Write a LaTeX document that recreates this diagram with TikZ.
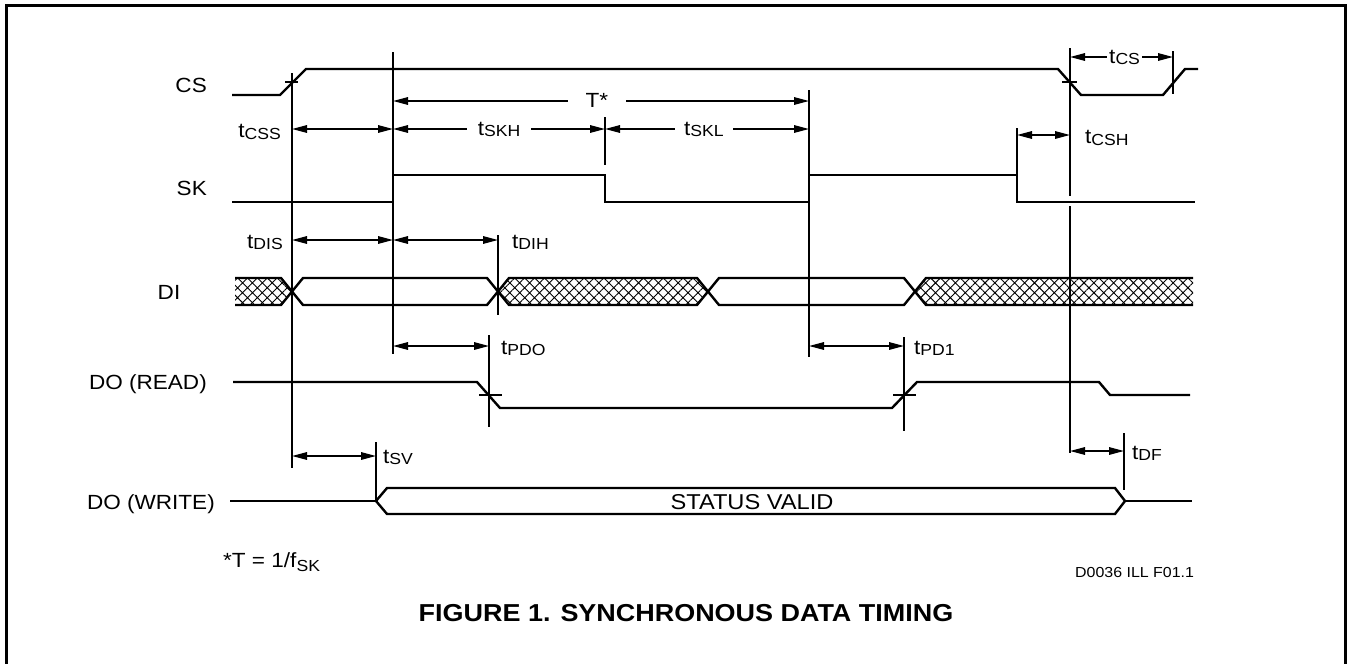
\documentclass[tikz,border=0pt]{standalone}
\usepackage{fontspec}
\setmainfont{Liberation Sans}[FakeStretch=1.1]
\usetikzlibrary{arrows.meta,patterns.meta}
\newcommand\tsb[1]{t\raisebox{-1.5pt}{\fontsize{16}{16}\selectfont #1}}
\begin{document}
\begin{tikzpicture}[x=1pt,y=-1pt,
  sig/.style={line width=2.4pt,line join=miter},
  dim/.style={line width=1.6pt,{Triangle[length=15pt,width=7.5pt]}-{Triangle[length=15pt,width=7.5pt]}},
  lbl/.style={font=\fontsize{20.5}{24}\selectfont, inner sep=0pt},
  glbl/.style={font=\fontsize{20.5}{24}\selectfont, fill=white, inner ysep=1pt, text height=14pt, text depth=2pt},
  hatch/.style={pattern={Hatch[angle=45,distance=7pt,line width=0.9pt]}},
  tick/.style={line width=1.5pt}
]
\useasboundingbox (0,0) rectangle (1350,664);
\clip (0,0) rectangle (1350,664);
% frame
\draw[line width=3pt] (6.5,700) -- (6.5,5.5) -- (1345,5.5) -- (1345,700);

% signal names
\node[lbl,anchor=base east] (nCS) at (207,92) {CS};
\node[lbl,anchor=base east] (nSK) at (207,195) {SK};
\node[lbl,anchor=base] (nDI) at (169,299) {DI};
\node[lbl,anchor=base east] (nDOR) at (207,389) {DO (READ)};
\node[lbl,anchor=base east] (nDOW) at (215,509) {DO (WRITE)};

% CS
\draw[sig] (232,95) -- (280,95) -- (306,69) -- (1058,69) -- (1081,95) -- (1163,95) -- (1185,69) -- (1198,69);
% SK
\draw[sig] (232,202) -- (393,202) -- (393,175) -- (605,175) -- (605,202) -- (809,202) -- (809,175) -- (1017,175) -- (1017,202) -- (1195,202);
% DI
\fill[hatch] (235,278) -- (281,278) -- (292,291.5) -- (281,305) -- (235,305) -- cycle;
\fill[hatch] (498,291.5) -- (509,278) -- (697,278) -- (708,291.5) -- (697,305) -- (509,305) -- cycle;
\fill[hatch] (915,291.5) -- (926,278) -- (1193,278) -- (1193,305) -- (926,305) -- cycle;
\draw[sig] (235,278) -- (281,278) -- (303,305) -- (487,305) -- (509,278) -- (697,278) -- (719,305) -- (904,305) -- (926,278) -- (1193,278);
\draw[sig] (235,305) -- (281,305) -- (303,278) -- (487,278) -- (509,305) -- (697,305) -- (719,278) -- (904,278) -- (926,305) -- (1193,305);
% DO (READ)
\draw[sig] (233,382) -- (477,382) -- (500,408) -- (892,408) -- (917,382) -- (1099,382) -- (1110,395) -- (1190,395);
% DO (WRITE)
\draw[sig] (230,501) -- (376,501);
\draw[sig] (376,501) -- (387,488) -- (1115,488) -- (1125,501) -- (1115,514) -- (387,514) -- cycle;
\draw[sig] (1125,501) -- (1192,501);
\node[font=\fontsize{21.5}{24}\selectfont, inner sep=0pt, anchor=base] (sv) at (752,509) {STATUS VALID};

% timing verticals
\draw[tick] (292,73) -- (292,468);
\draw[tick] (393,52) -- (393,354);
\draw[tick] (605,117) -- (605,165);
\draw[tick] (809,90) -- (809,357);
\draw[tick] (1017,128) -- (1017,175);
\draw[tick] (1070,48) -- (1070,196);
\draw[tick] (1070,206) -- (1070,453);
\draw[tick] (1173,51) -- (1173,94);
\draw[tick] (498,235) -- (498,315);
\draw[tick] (489,335) -- (489,427);
\draw[tick] (904,337) -- (904,431);
\draw[tick] (376,442) -- (376,501);
\draw[tick] (1124,433) -- (1124,490);
% crossing ticks
\draw[tick] (285,82) -- (298,82);
\draw[tick] (1062,82) -- (1077,82);
\draw[tick] (479,395) -- (502,395);
\draw[tick] (893,395) -- (916,395);

% dimension arrows
\draw[dim] (393,101) -- node[glbl,inner xsep=18pt,pos=0.49] (tT) {T*} (809,101);
\draw[dim] (292,129) -- (393,129);
\node[lbl,anchor=base east] (tcss) at (281,137.5) {\tsb{CSS}};
\draw[dim] (393,129) -- node[glbl,inner xsep=11pt] (tskh) {\tsb{SKH}} (605,129);
\draw[dim] (605,129) -- node[glbl,inner xsep=9pt,pos=0.485] (tskl) {\tsb{SKL}} (809,129);
\draw[dim] (1017,135) -- (1070,135);
\node[lbl,anchor=base west] (tcsh) at (1085,143.5) {\tsb{CSH}};
\draw[dim] (1070,57) -- node[glbl,inner xsep=2pt,pos=0.53] (tcs) {\tsb{CS}} (1173,57);
\draw[dim] (292,240) -- (393,240);
\node[lbl,anchor=base east] (tdis) at (283,248) {\tsb{DIS}};
\draw[dim] (393,240) -- (498,240);
\node[lbl,anchor=base west] (tdih) at (512,248) {\tsb{DIH}};
\draw[dim] (393,346) -- (489,346);
\node[lbl,anchor=base west] (tpdo) at (501,354) {\tsb{PDO}};
\draw[dim] (809,346) -- (904,346);
\node[lbl,anchor=base west] (tpd1) at (914,354) {\tsb{PD1}};
\draw[dim] (292,456) -- (376,456);
\node[lbl,anchor=base west] (tsv) at (383,463) {\tsb{SV}};
\draw[dim] (1070,451) -- (1124,451);
\node[lbl,anchor=base west] (tdf) at (1132,459) {\tsb{DF}};

% notes
\node[lbl,anchor=base west] (fn) at (223,567) {*T = 1/f\raisebox{-4pt}{\fontsize{16}{16}\selectfont SK}};
\node[font=\fontsize{14.5}{18}\selectfont, inner sep=0pt, anchor=base west] (ill) at (1075,577) {D0036 ILL F01.1};
\node[font=\fontsize{24.5}{30}\selectfont\bfseries, inner sep=0pt, anchor=base] (cap) at (686,621.5) {FIGURE 1. SYNCHRONOUS DATA TIMING};
\end{tikzpicture}
\end{document}
